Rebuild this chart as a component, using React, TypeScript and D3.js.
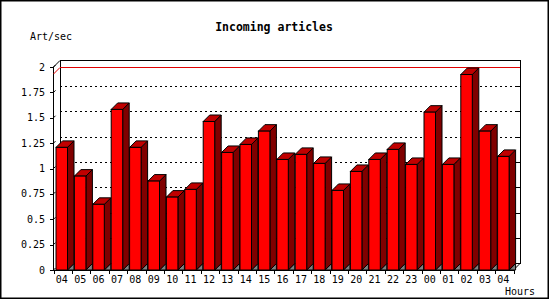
import React from "react";
import * as d3 from "d3";

const hours = ["04","05","06","07","08","09","10","11","12","13","14","15","16","17","18","19","20","21","22","23","00","01","02","03","04"];
const rates = [1.208,0.925,0.647,1.582,1.208,0.876,0.718,0.794,1.463,1.158,1.237,1.368,1.089,1.139,1.050,0.784,0.971,1.089,1.188,1.040,1.555,1.040,1.926,1.368,1.119];
const yTicks = [0,0.25,0.5,0.75,1,1.25,1.5,1.75,2];
const yTickLabels = ["0","0.25","0.5","0.75","1","1.25","1.5","1.75","2"];

const W = 550, H = 300;
const FRONT_L = 53.5, FRONT_R = 513.5, FLOOR = 270, TOP = 67;
const D = 6.5;
const MONO = "'DejaVu Sans Mono', 'Liberation Mono', monospace";

export default function App() {
  const y = d3.scaleLinear().domain([0, 2]).range([FLOOR, TOP]);
  const x = d3.scaleBand<number>().domain(d3.range(hours.length)).range([FRONT_L, FRONT_R]).paddingInner(0).paddingOuter(0);
  const bw = x.bandwidth();
  const barOff = 2.5;
  const barW = 11.5;
  const maxV = d3.max(rates) as number;
  const backL = FRONT_L + D, backR = FRONT_R + D, backT = y(2) - D, backB = FLOOR - D;
  const maxBackY = Math.floor(y(maxV) - D) - 0.5;

  return (
    <svg width={W} height={H} style={{ position: "absolute", left: 0, top: 0, background: "#fff" }}>
      <rect x={0.75} y={0.75} width={547.5} height={297.5} fill="#fff" stroke="#000" strokeWidth={1.5} />
      <text x={274} y={30.5} textAnchor="middle" fontFamily={MONO} fontWeight="bold" fontSize={11.5}>Incoming articles</text>
      <text x={30} y={40} fontFamily={MONO} fontSize={10}>Art/sec</text>
      <text x={505} y={295} fontFamily={MONO} fontSize={10}>Hours</text>

      {/* back wall */}
      <rect x={backL} y={backT} width={backR - backL} height={backB - backT} fill="#fff" stroke="#000" strokeWidth={1} shapeRendering="crispEdges" />
      {/* grid */}
      {yTicks.filter(t => t > 0 && t < 2).map((t, i) => (
        <line key={"g" + i} x1={backL} x2={backR} y1={Math.round(y(t) - D) + 0.5} y2={Math.round(y(t) - D) + 0.5} stroke="#000" strokeDasharray="2,3" strokeWidth={1} shapeRendering="crispEdges" />
      ))}
      {yTicks.filter(t => t > 0 && t < 2).map((t, i) => (
        <line key={"rt" + i} x1={backR - 4} x2={backR} y1={Math.round(y(t) - D) + 0.5} y2={Math.round(y(t) - D) + 0.5} stroke="#000" strokeWidth={1} shapeRendering="crispEdges" />
      ))}
      {/* left wall edges */}
      <line x1={FRONT_L} y1={y(2)} x2={backL} y2={backT} stroke="#000" strokeWidth={1} />
      <line x1={FRONT_L} y1={y(2)} x2={FRONT_L} y2={FLOOR} stroke="#000" strokeWidth={1} shapeRendering="crispEdges" />
      {/* max line */}
      <line x1={FRONT_L} y1={maxBackY + D} x2={backL} y2={maxBackY} stroke="#e00000" strokeWidth={1} />
      <line x1={backL} y1={maxBackY} x2={backR} y2={maxBackY} stroke="#e00000" strokeWidth={1} shapeRendering="crispEdges" />
      {/* left ticks */}
      {yTicks.map((t, i) => (
        <g key={"yt" + i}>
          <line x1={FRONT_L - 4} x2={FRONT_L} y1={Math.round(y(t)) + 0.5} y2={Math.round(y(t)) + 0.5} stroke="#000" strokeWidth={1} shapeRendering="crispEdges" />
          <line x1={FRONT_L} x2={FRONT_L + 2} y1={y(t)} y2={y(t) - 2} stroke="#000" strokeWidth={1} />
          <text x={45} y={y(t) + 3.5} textAnchor="end" fontFamily={MONO} fontSize={10}>{yTickLabels[i]}</text>
        </g>
      ))}
      {/* floor */}
      <line x1={FRONT_L} y1={FLOOR + 0.5} x2={FRONT_R} y2={FLOOR + 0.5} stroke="#000" strokeWidth={1} shapeRendering="crispEdges" />
      <line x1={FRONT_R} y1={FLOOR} x2={backR} y2={backB} stroke="#000" strokeWidth={1} />
      {/* bars */}
      {rates.map((v, i) => {
        const fl = (x(i) as number) + barOff;
        const fr = fl + barW;
        const ty = y(v);
        return (
          <g key={"b" + i} stroke="#000" strokeWidth={1} strokeLinejoin="miter">
            <polygon points={`${fr},${FLOOR} ${fr + D},${FLOOR - D} ${fr + D},${FLOOR}`} fill="#808080" />
            <polygon points={`${fr},${ty} ${fr + D},${ty - D} ${fr + D},${FLOOR - D} ${fr},${FLOOR}`} fill="#800000" />
            <polygon points={`${fl},${ty} ${fl + D},${ty - D} ${fr + D},${ty - D} ${fr},${ty}`} fill="#c00000" />
            <rect x={fl} y={ty} width={barW} height={FLOOR - ty} fill="#ff0000" />
          </g>
        );
      })}
      {/* x ticks and labels */}
      {d3.range(hours.length + 1).map(i => {
        const tx = Math.round(FRONT_L + i * bw) + 0.5;
        return <line key={"xt" + i} x1={tx} x2={tx} y1={FLOOR} y2={FLOOR + 4} stroke="#000" strokeWidth={1} shapeRendering="crispEdges" />;
      })}
      {hours.map((h, i) => (
        <text key={"xl" + i} x={(x(i) as number) + barOff + barW / 2} y={283} textAnchor="middle" fontFamily={MONO} fontSize={10}>{h}</text>
      ))}
    </svg>
  );
}
